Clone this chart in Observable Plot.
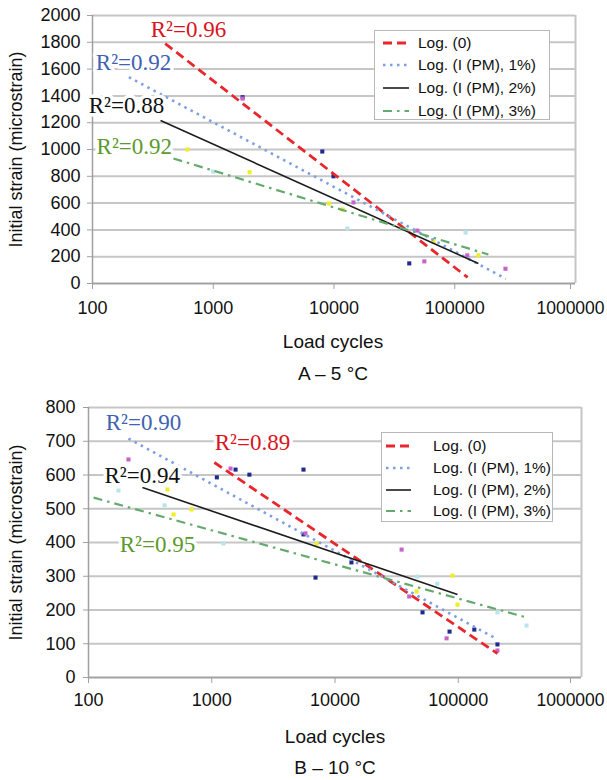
<!DOCTYPE html>
<html><head><meta charset="utf-8">
<script src="https://cdn.jsdelivr.net/npm/d3@7"></script>
<script src="https://cdn.jsdelivr.net/npm/@observablehq/plot@0.6"></script>
<style>
body{margin:0;background:#fff;}
#wrap{position:relative;width:607px;height:780px;overflow:hidden;font-family:"Liberation Sans",Arial,sans-serif;color:#111;}
.panel{position:absolute;left:0;}
.cap{position:absolute;transform:translate(-50%,-50%);font-size:19px;white-space:nowrap;color:#111;}
.legend{position:absolute;border:1px solid #b8b8b8;background:#fff;font-size:15.5px;box-sizing:border-box;}
.legend .row{position:absolute;left:0;height:20px;display:flex;align-items:center;white-space:nowrap;transform:translateY(-50%);}
.legend svg{display:block;}
</style></head>
<body><div id="wrap"></div>
<script>
// ---------- shared ----------
const seriesNames = ["Log. (0)", "Log. (I (PM), 1%)", "Log. (I (PM), 2%)", "Log. (I (PM), 3%)"];
const xTicks = [100, 1000, 10000, 100000, 1000000];

// ---------- Panel A (5 °C) ----------
const aTrendStartCycles = [400, 200, 366, 468];
const aTrendStartStrain = [1790, 1540, 1216, 933];
const aTrendEndCycles   = [128000, 265000, 157000, 190000];
const aTrendEndStrain   = [45, 35, 149, 216];
const aR2Text   = ["R²=0.96", "R²=0.92", "R²=0.88", "R²=0.92"];
const aR2Cycles = [624, 219, 191, 222];
const aR2Strain = [1895, 1649, 1328, 1022];
// point groups: 0 navy, 1 magenta, 2 yellow, 3 cyan
const aPointCycles = [1750, 8000, 9900, 42000, 1750, 14500, 49000, 56000, 127000, 263000, 610, 2000, 9100, 11800, 66700, 157000, 1000, 12900, 123000];
const aPointStrain = [1390, 985, 800, 150, 1380, 605, 395, 165, 210, 110, 1000, 830, 597, 552, 313, 210, 835, 410, 380];
const aPointGroup  = [0, 0, 0, 0, 1, 1, 1, 1, 1, 1, 2, 2, 2, 2, 2, 2, 3, 3, 3];
const aYTicks = [0, 200, 400, 600, 800, 1000, 1200, 1400, 1600, 1800, 2000];

// ---------- Panel B (10 °C) ----------
const bTrendStartCycles = [1050, 211, 274, 110];
const bTrendStartStrain = [637, 708, 563, 533];
const bTrendEndCycles   = [208000, 208000, 98600, 358000];
const bTrendEndStrain   = [71, 113, 246, 178];
const bR2Text   = ["R²=0.89", "R²=0.90", "R²=0.94", "R²=0.95"];
const bR2Cycles = [2140, 279, 273, 363];
const bR2Strain = [696, 756, 599, 394];
const bPointCycles = [1100, 1560, 2020, 5550, 5550, 6950, 13600, 51300, 85000, 135000, 208000,
                      1420, 211, 5760, 34700, 40000, 80400, 208000,
                      437, 490, 685, 7100, 45900, 89800, 98600,
                      175, 414, 1245, 46500, 67600, 208000, 358000];
const bPointStrain = [593, 616, 601, 616, 424, 296, 341, 193, 136, 142, 98,
                      619, 646, 427, 379, 240, 116, 80,
                      557, 483, 498, 397, 255, 302, 216,
                      554, 510, 397, 299, 278, 193, 154];
const bPointGroup  = [0,0,0,0,0,0,0,0,0,0,0, 1,1,1,1,1,1,1, 2,2,2,2,2,2,2, 3,3,3,3,3,3,3];
const bYTicks = [0, 100, 200, 300, 400, 500, 600, 700, 800];

// ---------- styles ----------
const lineColors = ["#e8262b", "#7f9fe2", "#1c1c1c", "#63aa6c"];
const lineDash   = ["9,5", "2.5,4.5", null, "9,5,2.5,5"];
const lineWidth  = [2.8, 2.6, 1.6, 2.2];
const r2Colors   = {"A": ["#d9141e", "#3f62b3", "#111111", "#5b9a2e"], "B": ["#d9141e", "#3f62b3", "#111111", "#5b9a2e"]};
const pointColors = ["#1f2a8a", "#c862c8", "#eeee22", "#b8e4ec"];
const gridColor = "#c6c6c6", axisColor = "#a0a0a0";

function panel(cfg) {
  const trends = cfg.s.map((_, i) => ({i, x1: cfg.sc[i], y1: cfg.ss[i], x2: cfg.ec[i], y2: cfg.es[i]}));
  const pts = cfg.pc.map((c, i) => ({x: c, y: cfg.ps[i], g: cfg.pg[i]}));
  const labels = cfg.rt.map((t, i) => ({t, x: cfg.rc[i], y: cfg.rs[i], col: cfg.rcol[i]}));
  const marks = [
    Plot.gridY(cfg.yTicks, {stroke: gridColor, strokeOpacity: 1, strokeWidth: 2}),
    Plot.ruleX([1e6], {stroke: gridColor, strokeWidth: 2}),
    Plot.ruleX([100], {stroke: axisColor, strokeWidth: 1.5}),
    Plot.ruleY([0], {stroke: axisColor, strokeWidth: 1.5}),
    Plot.axisY({ticks: cfg.yTicks, tickFormat: d3.format("d"), tickSize: 5, tickPadding: cfg.yPad, stroke: axisColor, fill: "#111", fontSize: 18,
      label: "Initial strain (microstrain)", labelAnchor: "center", labelOffset: cfg.labelOffset, labelArrow: "none"}),
    Plot.axisX({ticks: xTicks.slice(0, 4), tickFormat: d3.format("d"), tickSize: 6, tickPadding: cfg.xPad, stroke: axisColor, fill: "#111", fontSize: 18, label: null}),
    Plot.axisX({ticks: xTicks.slice(4), tickFormat: d3.format("d"), tickSize: 6, tickPadding: cfg.xPad, stroke: axisColor, fill: "#111", fontSize: 17.5, dx: cfg.lastDx, label: null})
  ];
  pointColors.forEach((col, g) => {
    marks.push(Plot.dot(pts.filter(d => d.g === g), {x: "x", y: "y", fill: col, r: 2.3, symbol: "square"}));
  });
  trends.forEach(t => {
    marks.push(Plot.link([t], {x1: "x1", y1: "y1", x2: "x2", y2: "y2", stroke: lineColors[t.i],
      strokeWidth: lineWidth[t.i], strokeDasharray: lineDash[t.i] ?? undefined}));
  });
  labels.forEach(l => {
    marks.push(Plot.text([l], {x: "x", y: "y", text: "t", fill: l.col, stroke: "white", strokeWidth: 7,
      fontFamily: "Liberation Serif, Times New Roman, serif", fontSize: 23, paintOrder: "stroke"}));
  });
  return Plot.plot({
    width: 607, height: cfg.height,
    marginTop: cfg.mt, marginBottom: cfg.mb, marginLeft: cfg.ml, marginRight: cfg.mr,
    x: {type: "log", domain: [100, 1e6]},
    y: {domain: [0, cfg.yMax]},
    style: {fontFamily: "Liberation Sans, Arial, sans-serif", fontSize: "18px", background: "transparent", overflow: "visible"},
    marks
  });
}

function legend(parent, left, top, w, h, rowsY, swX, swW, textX) {
  const box = document.createElement("div");
  box.className = "legend";
  Object.assign(box.style, {left: left + "px", top: top + "px", width: w + "px", height: h + "px"});
  seriesNames.forEach((name, i) => {
    const row = document.createElement("div");
    row.className = "row";
    row.style.top = rowsY[i] + "px";
    const svg = d3.create("svg").attr("width", textX).attr("height", 20);
    svg.append("line").attr("x1", swX).attr("x2", swX + swW).attr("y1", 10).attr("y2", 10)
      .attr("stroke", lineColors[i]).attr("stroke-width", lineWidth[i])
      .attr("stroke-dasharray", lineDash[i]);
    row.appendChild(svg.node());
    const span = document.createElement("span");
    span.textContent = name;
    row.appendChild(span);
    box.appendChild(row);
  });
  parent.appendChild(box);
}

function caption(parent, text, x, y) {
  const d = document.createElement("div");
  d.className = "cap";
  d.textContent = text;
  d.style.left = x + "px";
  d.style.top = y + "px";
  parent.appendChild(d);
}

const wrap = document.getElementById("wrap");

// Panel A
const pa = panel({s: seriesNames, sc: aTrendStartCycles, ss: aTrendStartStrain, ec: aTrendEndCycles, es: aTrendEndStrain,
  pc: aPointCycles, ps: aPointStrain, pg: aPointGroup, rt: aR2Text, rc: aR2Cycles, rs: aR2Strain, rcol: r2Colors.A,
  yTicks: aYTicks, yMax: 2000, height: 330, mt: 15, mb: 47, ml: 92, mr: 32, yPad: 7, xPad: 12, labelOffset: 83, lastDx: -5});
const da = document.createElement("div"); da.className = "panel"; da.style.top = "0px"; da.appendChild(pa); wrap.appendChild(da);
legend(wrap, 374, 30, 176, 90, [12, 34, 57, 80], 8, 26, 43);
caption(wrap, "Load cycles", 333, 342);
caption(wrap, "A – 5 °C", 333, 374);

// Panel B
const pb = panel({s: seriesNames, sc: bTrendStartCycles, ss: bTrendStartStrain, ec: bTrendEndCycles, es: bTrendEndStrain,
  pc: bPointCycles, ps: bPointStrain, pg: bPointGroup, rt: bR2Text, rc: bR2Cycles, rs: bR2Strain, rcol: r2Colors.B,
  yTicks: bYTicks, yMax: 800, height: 325, mt: 12, mb: 43, ml: 88, mr: 26, yPad: 8, xPad: 10, labelOffset: 79, lastDx: -11});
const db = document.createElement("div"); db.className = "panel"; db.style.top = "395px"; db.appendChild(pb); wrap.appendChild(db);
legend(wrap, 381, 432, 172, 90, [13, 35, 57, 78], 4, 25, 51);
caption(wrap, "Load cycles", 335, 737);
caption(wrap, "B – 10 °C", 335, 768);
</script>
</body></html>
